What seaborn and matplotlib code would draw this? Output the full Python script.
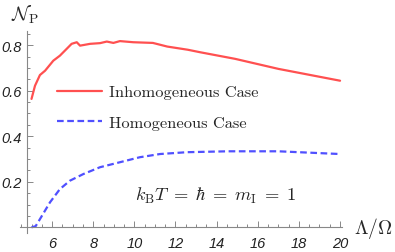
import pandas as pd
import seaborn as sns
import matplotlib.pyplot as plt
from matplotlib.ticker import MultipleLocator
from matplotlib.lines import Line2D

# values
inhom_x = [5.0, 5.17, 5.41, 5.66, 6.06, 6.38, 6.71, 6.95, 7.2, 7.36, 7.85, 8.33,
           8.66, 8.98, 9.3, 9.95, 10.9, 11.6, 12.6, 13.2, 14.9, 17.0, 20.0]
inhom_y = [0.564, 0.622, 0.669, 0.688, 0.732, 0.754, 0.784, 0.806, 0.813, 0.798,
           0.806, 0.809, 0.816, 0.81, 0.818, 0.813, 0.81, 0.794, 0.78, 0.769,
           0.74, 0.696, 0.644]
hom_x = [5.0, 5.2, 5.41, 5.9, 6.38, 6.87, 7.52, 8.33, 9.3, 10.27, 11.25, 12.55,
         14.56, 17.0, 20.0]
hom_y = [0.0, 0.005, 0.036, 0.11, 0.168, 0.205, 0.234, 0.264, 0.286, 0.308,
         0.322, 0.33, 0.334, 0.334, 0.322]
labels = ['Inhomogeneous Case', 'Homogeneous Case']

df = pd.concat([
    pd.DataFrame({'x': inhom_x, 'y': inhom_y, 'case': labels[0]}),
    pd.DataFrame({'x': hom_x, 'y': hom_y, 'case': labels[1]}),
])

sns.set_style('white')
plt.rcParams['mathtext.fontset'] = 'cm'

red = '#ff5050'
blue = '#5050ff'

fig = plt.figure(figsize=(3.95, 2.53), dpi=100)
ax = fig.add_axes([0.0506, 0.075, 0.815, 0.8])

sns.lineplot(data=df, x='x', y='y', hue='case', style='case',
             palette={labels[0]: red, labels[1]: blue},
             dashes={labels[0]: '', labels[1]: (3, 1.6)},
             linewidth=1.6, legend=False, ax=ax, sort=False)

ax.set_xlim(4.44, 20.09)
ax.set_ylim(-0.025, 0.864)

# Mathematica style axes crossing at (4.78, 0)
for s in ['top', 'right']:
    ax.spines[s].set_visible(False)
ax.spines['left'].set_position(('data', 4.78))
ax.spines['bottom'].set_position(('data', 0))
for s in ['left', 'bottom']:
    ax.spines[s].set_color('#888888')
    ax.spines[s].set_linewidth(0.8)

ax.xaxis.set_major_locator(MultipleLocator(2))
ax.xaxis.set_minor_locator(MultipleLocator(0.5))
ax.yaxis.set_major_locator(MultipleLocator(0.2))
ax.yaxis.set_minor_locator(MultipleLocator(0.05))
ax.set_xticks([6, 8, 10, 12, 14, 16, 18, 20])
ax.set_yticks([0.2, 0.4, 0.6, 0.8])
ax.tick_params(which='both', direction='in', color='#888888', bottom=True,
               left=True, width=0.7)
ax.tick_params(which='major', length=4)
ax.tick_params(which='minor', length=2)
ax.tick_params(axis='x', pad=6)
ax.tick_params(axis='y', pad=4)
for t in ax.get_xticklabels() + ax.get_yticklabels():
    t.set_fontfamily('Liberation Sans')
    t.set_fontstyle('italic')
    t.set_fontsize(10.5)
    t.set_color('#222222')
ax.set_xlabel('')
ax.set_ylabel('')

fig.text(0.028, 0.94, r'$\mathcal{N}_\mathrm{P}$', fontsize=14, va='center')
fig.text(0.895, 0.097, r'$\Lambda/\Omega$', fontsize=14, va='center')
ax.text(13.95, 0.143,
        r'$k_\mathrm{B}T\;=\;\hbar\;=\;m_\mathrm{I}\;=\;1$', fontsize=13.3,
        ha='center', va='center')

handles = [Line2D([], [], color=red, lw=1.6),
           Line2D([], [], color=blue, lw=1.6, dashes=(3, 1.6))]
leg = ax.legend(handles, labels, loc='upper left', bbox_to_anchor=(0.069, 0.805),
                frameon=False, handlelength=2.75, handletextpad=0.45,
                labelspacing=1.0, prop={'family': 'cmr10', 'size': 11.8})

plt.savefig('out.png', dpi=100)
